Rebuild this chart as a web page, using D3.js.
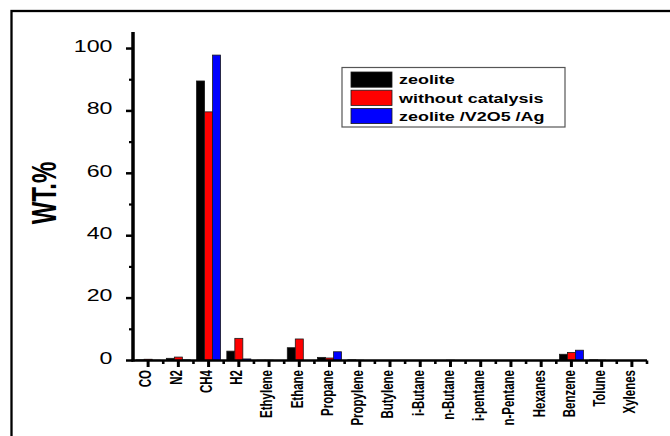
<!DOCTYPE html>
<html>
<head>
<meta charset="utf-8">
<script src="https://cdn.jsdelivr.net/npm/d3@7"></script>
<style>
  html, body { margin: 0; padding: 0; background: #fff; }
  svg { display: block; font-family: "Liberation Sans", Arial, sans-serif; }
</style>
</head>
<body>
<svg id="chart" width="670" height="436"></svg>
<script>
// Product distribution (wt.%) for three runs
const categories = ["CO", "N2", "CH4", "H2", "Ethylene", "Ethane", "Propane", "Propylene",
  "Butylene", "i-Butane", "n-Butane", "i-pentane", "n-Pentane", "Hexanes", "Benzene", "Tolune", "Xylenes"];
const seriesNames = ["zeolite", "without catalysis", "zeolite /V2O5 /Ag"];
const zeolite          = [0.2, 0.7, 89.6, 3.0, 0.1, 4.1, 1.0, 0.2, 0.0, 0.0, 0.0, 0.0, 0.0, 0.0, 2.0, 0.2, 0.0];
const withoutCatalysis = [0.4, 1.1, 79.7, 7.1, 0.1, 6.9, 0.8, 0.1, 0.0, 0.0, 0.1, 0.0, 0.0, 0.0, 2.6, 0.1, 0.0];
const zeoliteV2O5Ag    = [0.1, 0.2, 97.9, 0.5, 0.0, 0.0, 2.8, 0.0, 0.0, 0.0, 0.0, 0.0, 0.0, 0.0, 3.3, 0.0, 0.0];
const seriesColors = ["#000000", "#ff0000", "#0000ff"];
const yMajorTicks = [0, 20, 40, 60, 80, 100];
const yMinorTicks = [10, 30, 50, 70, 90];

const series = [zeolite, withoutCatalysis, zeoliteV2O5Ag];
const svg = d3.select("#chart");
const SX = 1.45; // horizontal glyph stretch used by the figure's lettering

// outer frame (open to the right and bottom)
svg.append("rect").attr("x", 11.5).attr("y", 11).attr("width", 720).attr("height", 520)
  .attr("fill", "none").attr("stroke", "#000").attr("stroke-width", 2.3);

const x0 = 133, x1 = 647, yBase = 360.5, yTop = 32;
const x = d3.scaleBand().domain(categories).range([x0, x1]).padding(0);
const y = d3.scaleLinear().domain([0, 105.3]).range([yBase, yTop]);
const xs = d3.scaleBand().domain(d3.range(series.length)).range([-12, 12]).padding(0);

// bars
const g = svg.append("g");
series.forEach((vals, si) => {
  g.selectAll(null).data(vals).enter().append("rect")
    .attr("x", (d, i) => x(categories[i]) + x.bandwidth() / 2 + xs(si))
    .attr("y", d => y(d))
    .attr("width", xs.bandwidth())
    .attr("height", d => yBase - y(d))
    .attr("fill", seriesColors[si])
    .attr("stroke", "#1a1a1a")
    .attr("stroke-width", d => d > 0 ? 0.8 : 0);
});

// y axis
const yAxisG = svg.append("g");
yAxisG.append("line").attr("x1", x0).attr("x2", x0).attr("y1", yTop).attr("y2", yBase + 1)
  .attr("stroke", "#000").attr("stroke-width", 3.5);
yAxisG.selectAll(".ymaj").data(yMajorTicks).enter().append("line")
  .attr("x1", x0 - 7).attr("x2", x0).attr("y1", d => y(d)).attr("y2", d => y(d))
  .attr("stroke", "#000").attr("stroke-width", 2.5);
yAxisG.selectAll(".ymin").data(yMinorTicks).enter().append("line")
  .attr("x1", x0 - 4).attr("x2", x0).attr("y1", d => y(d)).attr("y2", d => y(d))
  .attr("stroke", "#000").attr("stroke-width", 2.2);
yAxisG.selectAll(".ylab").data(yMajorTicks).enter().append("text")
  .attr("transform", d => `translate(112.5,${y(d) + 3.3}) scale(${SX},1)`)
  .attr("text-anchor", "end")
  .attr("font-size", 16)
  .attr("fill", "#000")
  .text(d => d);

// y title
svg.append("text")
  .attr("transform", `translate(56,193) scale(${SX},1) rotate(-90)`)
  .attr("text-anchor", "middle")
  .attr("font-size", 24).attr("font-weight", "bold")
  .text("WT.%");

// x axis
const xAxisG = svg.append("g");
xAxisG.append("line").attr("x1", x0 - 1.5).attr("x2", x1).attr("y1", yBase).attr("y2", yBase)
  .attr("stroke", "#000").attr("stroke-width", 2.5);
xAxisG.selectAll(".xmaj").data(categories).enter().append("line")
  .attr("x1", d => x(d) + x.bandwidth() / 2).attr("x2", d => x(d) + x.bandwidth() / 2)
  .attr("y1", yBase).attr("y2", yBase + 6.5)
  .attr("stroke", "#000").attr("stroke-width", 3);
const bounds = categories.map(c => x(c)).concat([x1]);
xAxisG.selectAll(".xmin").data(bounds.slice(1)).enter().append("line")
  .attr("x1", d => d).attr("x2", d => d)
  .attr("y1", yBase).attr("y2", yBase + 3.5)
  .attr("stroke", "#000").attr("stroke-width", 2.6);
xAxisG.selectAll(".xlab").data(categories).enter().append("text")
  .attr("transform", d => `translate(${x(d) + x.bandwidth() / 2},370) scale(${SX},1) rotate(-90)`)
  .attr("dy", "0.2em")
  .attr("text-anchor", "end")
  .attr("font-size", 11.5).attr("font-weight", "bold")
  .text(d => d);

// legend
const lg = svg.append("g");
lg.append("rect").attr("x", 342).attr("y", 67.5).attr("width", 223).attr("height", 59.5)
  .attr("fill", "#fff").attr("stroke", "#555").attr("stroke-width", 1.2);
seriesNames.forEach((name, i) => {
  const ry = 72 + i * 18.2;
  lg.append("rect").attr("x", 351).attr("y", ry).attr("width", 41).attr("height", 15.2)
    .attr("fill", seriesColors[i]).attr("stroke", "#1a1a1a").attr("stroke-width", 0.8);
  lg.append("text")
    .attr("transform", `translate(399,${ry + 12.4}) scale(1.38,1)`)
    .attr("font-size", 13).attr("font-weight", "bold")
    .text(name);
});
</script>
</body>
</html>
